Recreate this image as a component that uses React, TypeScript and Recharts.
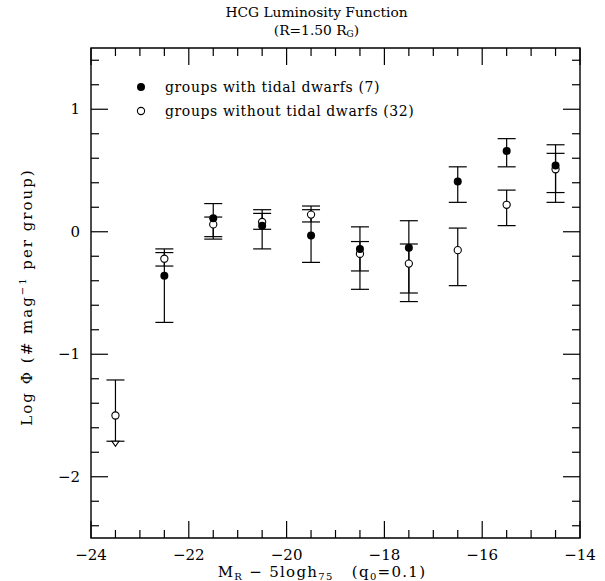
import {
  ErrorBar,
  ReferenceArea,
  Scatter,
  ScatterChart,
  XAxis,
  YAxis,
} from "recharts";

// magnitude bins (bin centres)
const TIDAL_X = [-22.5, -21.5, -20.5, -19.5, -18.5, -17.5, -16.5, -15.5, -14.5];
const TIDAL_Y = [-0.36, 0.11, 0.05, -0.03, -0.14, -0.13, 0.41, 0.66, 0.54];
const TIDAL_LO = [-0.74, -0.06, -0.14, -0.25, -0.47, -0.57, 0.24, 0.53, 0.24];
const TIDAL_HI = [-0.14, 0.23, 0.15, 0.18, 0.04, 0.09, 0.53, 0.76, 0.71];

const NOTIDAL_X = [-23.5, -22.5, -21.5, -20.5, -19.5, -18.5, -17.5, -16.5, -15.5, -14.5];
const NOTIDAL_Y = [-1.5, -0.22, 0.06, 0.08, 0.14, -0.18, -0.26, -0.15, 0.22, 0.51];
const NOTIDAL_LO = [-1.71, -0.28, -0.04, 0.02, 0.08, -0.32, -0.5, -0.44, 0.05, 0.32];
const NOTIDAL_HI = [-1.21, -0.17, 0.12, 0.18, 0.21, -0.08, -0.1, 0.03, 0.34, 0.64];

// upper limit arrow on the brightest bin
const LIMIT_X = [-23.5];
const LIMIT_Y = [-1.71];

const X_TICKS = [
  -24, -23.5, -23, -22.5, -22, -21.5, -21, -20.5, -20, -19.5, -19, -18.5, -18,
  -17.5, -17, -16.5, -16, -15.5, -15, -14.5, -14,
];
const X_MAJOR = [-24, -22, -20, -18, -16, -14];
const Y_TICKS = [
  -2.4, -2.2, -2, -1.8, -1.6, -1.4, -1.2, -1, -0.8, -0.6, -0.4, -0.2, 0, 0.2,
  0.4, 0.6, 0.8, 1, 1.2, 1.4,
];
const Y_MAJOR = [-2, -1, 0, 1];

const W = 605;
const H = 581;
const M_TOP = 48;
const M_RIGHT = 25;
const Y_AXIS_W = 91;
const X_AXIS_H = 43;
const PLOT_LEFT = Y_AXIS_W;
const PLOT_RIGHT = W - M_RIGHT;
const PLOT_TOP = M_TOP;
const PLOT_BOTTOM = H - X_AXIS_H;

const FONT = "'DejaVu Serif', serif";

const fmt = (v: number) => (v < 0 ? `\u2212${Math.abs(v)}` : `${v}`);

const build = (xs: number[], ys: number[], lo: number[], hi: number[]) =>
  xs.map((x, i) => ({ x, y: ys[i], err: [ys[i] - lo[i], hi[i] - ys[i]] }));

const tidalData = build(TIDAL_X, TIDAL_Y, TIDAL_LO, TIDAL_HI);
const noTidalData = build(NOTIDAL_X, NOTIDAL_Y, NOTIDAL_LO, NOTIDAL_HI);
const limitData = LIMIT_X.map((x, i) => ({ x, y: LIMIT_Y[i] }));

function XTick({ x, payload }: any) {
  const major = X_MAJOR.includes(payload.value);
  const len = major ? 17 : 8;
  return (
    <g>
      <line x1={x} x2={x} y1={PLOT_BOTTOM} y2={PLOT_BOTTOM - len} stroke="#000" strokeWidth={1.2} />
      <line x1={x} x2={x} y1={PLOT_TOP} y2={PLOT_TOP + len} stroke="#000" strokeWidth={1.2} />
      {major && (
        <text x={x} y={PLOT_BOTTOM + 22} textAnchor="middle" fontFamily={FONT} fontSize={15} fill="#000">
          {fmt(payload.value)}
        </text>
      )}
    </g>
  );
}

function YTick({ y, payload }: any) {
  const major = Y_MAJOR.includes(payload.value);
  const len = major ? 17 : 8;
  return (
    <g>
      <line x1={PLOT_LEFT} x2={PLOT_LEFT + len} y1={y} y2={y} stroke="#000" strokeWidth={1.2} />
      <line x1={PLOT_RIGHT} x2={PLOT_RIGHT - len} y1={y} y2={y} stroke="#000" strokeWidth={1.2} />
      {major && (
        <text x={PLOT_LEFT - 11} y={y + 5} textAnchor="end" fontFamily={FONT} fontSize={15} fill="#000">
          {fmt(payload.value)}
        </text>
      )}
    </g>
  );
}

const FilledDot = ({ cx, cy }: any) => <circle cx={cx} cy={cy} r={4} fill="#000" />;
const OpenDot = ({ cx, cy }: any) => (
  <circle cx={cx} cy={cy} r={3.6} fill="#fff" stroke="#000" strokeWidth={1.1} />
);
const DownArrow = ({ cx, cy }: any) => (
  <path d={`M${cx - 3.5},${cy} L${cx + 3.5},${cy} L${cx},${cy + 5} Z`} fill="#fff" stroke="#000" strokeWidth={1.1} />
);

const subStyle = { fontSize: 10, verticalAlign: "-3px", lineHeight: 0 } as const;

export default function App() {
  return (
    <div
      style={{
        position: "absolute",
        left: 0,
        top: 0,
        width: W,
        height: H,
        background: "#fff",
        fontFamily: FONT,
        color: "#000",
        overflow: "hidden",
      }}
    >
      <ScatterChart
        width={W}
        height={H}
        margin={{ top: M_TOP, right: M_RIGHT, left: 0, bottom: 0 }}
      >
        <XAxis
          type="number"
          dataKey="x"
          domain={[-24, -14]}
          ticks={X_TICKS}
          interval={0}
          allowDataOverflow
          height={X_AXIS_H}
          tickLine={false}
          axisLine={false}
          tick={<XTick />}
        />
        <YAxis
          type="number"
          dataKey="y"
          domain={[-2.5, 1.5]}
          ticks={Y_TICKS}
          interval={0}
          allowDataOverflow
          width={Y_AXIS_W}
          tickLine={false}
          axisLine={false}
          tick={<YTick />}
        />
        <ReferenceArea
          x1={-24}
          x2={-14}
          y1={-2.5}
          y2={1.5}
          fill="none"
          stroke="#000"
          strokeWidth={1.4}
          fillOpacity={0}
        />
        <Scatter data={noTidalData} shape={<OpenDot />} isAnimationActive={false}>
          <ErrorBar dataKey="err" direction="y" width={9} stroke="#000" strokeWidth={1.2} />
        </Scatter>
        <Scatter data={limitData} shape={<DownArrow />} isAnimationActive={false} />
        <Scatter data={tidalData} shape={<FilledDot />} isAnimationActive={false}>
          <ErrorBar dataKey="err" direction="y" width={9} stroke="#000" strokeWidth={1.2} />
        </Scatter>
      </ScatterChart>

      {/* title */}
      <div style={{ position: "absolute", left: 0, width: W, top: 3, textAlign: "center", fontSize: 13.8, lineHeight: "18px", paddingLeft: 28, boxSizing: "border-box" }}>
        <div>HCG Luminosity Function</div>
        <div>
          (R=1.50 R<sub style={{ fontSize: 9, verticalAlign: "-2px", lineHeight: 0 }}>G</sub>)
        </div>
      </div>

      {/* legend */}
      <div style={{ position: "absolute", left: 134, top: 75, fontSize: 14, letterSpacing: 0.6, lineHeight: "24px" }}>
        <div style={{ display: "flex", alignItems: "center" }}>
          <svg width={14} height={14} style={{ marginRight: 17 }}>
            <circle cx={7} cy={7} r={4} fill="#000" />
          </svg>
          groups with tidal dwarfs (7)
        </div>
        <div style={{ display: "flex", alignItems: "center" }}>
          <svg width={14} height={14} style={{ marginRight: 17 }}>
            <circle cx={7} cy={7} r={3.6} fill="#fff" stroke="#000" strokeWidth={1.1} />
          </svg>
          groups without tidal dwarfs (32)
        </div>
      </div>

      {/* y axis label */}
      <div
        style={{
          position: "absolute",
          left: 27,
          top: 297,
          transform: "translate(-50%, -50%) rotate(-90deg)",
          whiteSpace: "nowrap",
          fontSize: 15,
          letterSpacing: 2,
          lineHeight: "18px",
        }}
      >
        Log Φ (# mag<sup style={{ fontSize: 10, lineHeight: 0, verticalAlign: "6px" }}>−1</sup> per group)
      </div>

      {/* x axis label */}
      <div
        style={{
          position: "absolute",
          left: 322,
          top: 565,
          transform: "translateX(-50%)",
          whiteSpace: "nowrap",
          fontSize: 15,
          letterSpacing: 1.3,
          lineHeight: "15px",
        }}
      >
        M<sub style={subStyle}>R</sub> − 5logh<sub style={subStyle}>75</sub>&nbsp;&nbsp;&nbsp;(q<sub style={subStyle}>0</sub>=0.1)
      </div>
    </div>
  );
}
